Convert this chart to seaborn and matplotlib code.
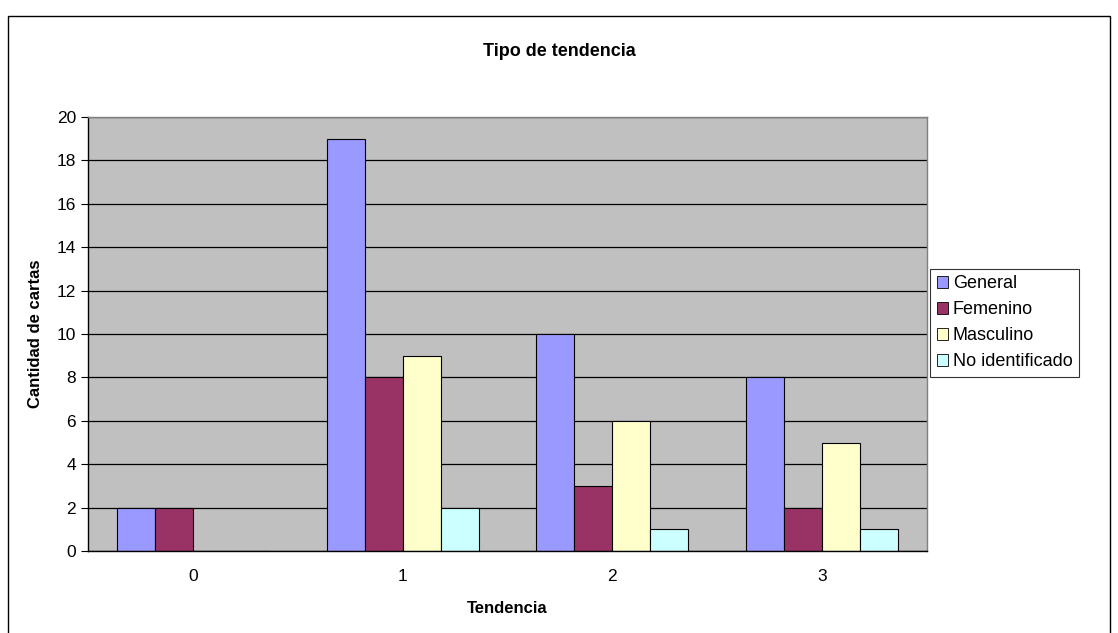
"""Tipo de tendencia - grouped bars, Excel style."""
import matplotlib.pyplot as plt
import matplotlib.patches as mpatches
import pandas as pd
import seaborn as sns

# Data
tendencias = ["0", "1", "2", "3"]
general = [2, 19, 10, 8]
femenino = [2, 8, 3, 2]
masculino = [0, 9, 6, 5]
no_identificado = [0, 2, 1, 1]
series_names = ["General", "Femenino", "Masculino", "No identificado"]
colors = ["#9999FF", "#993366", "#FFFFCC", "#CCFFFF"]

rows = []
for name, vals in zip(series_names, [general, femenino, masculino, no_identificado]):
    for t, v in zip(tendencias, vals):
        rows.append({"Tendencia": t, "Serie": name, "Cantidad": v})
df = pd.DataFrame(rows)

sns.set_style("white")
plt.rcParams["font.family"] = ["Liberation Sans", "DejaVu Sans"]
plt.rcParams["text.color"] = "black"
plt.rcParams["axes.labelcolor"] = "black"
plt.rcParams["xtick.color"] = "black"
plt.rcParams["ytick.color"] = "black"

fig = plt.figure(figsize=(11.18, 6.33), dpi=100)
ax = fig.add_axes([0.0787, 0.1295, 0.7505, 0.6857])
ax.set_facecolor("#C0C0C0")

sns.barplot(data=df, x="Tendencia", y="Cantidad", hue="Serie", order=tendencias,
            hue_order=series_names, palette=colors, width=0.724, gap=0,
            edgecolor="black", linewidth=0.8, saturation=1, ax=ax, legend=True)

ax.set_ylim(0, 20)
ax.set_xlim(-0.5, 3.5)
ax.set_yticks(range(0, 21, 2))
ax.yaxis.grid(True, color="black", linewidth=0.9)
ax.set_axisbelow(True)
ax.set_xticks([-0.5, 0.5, 1.5, 2.5, 3.5], minor=False)
ax.set_xticklabels([])
ax.set_xticks(range(4), minor=True)
ax.set_xticklabels(tendencias, minor=True, fontsize=12.5)
ax.tick_params(axis="x", which="major", direction="out", length=5)
ax.tick_params(axis="x", which="minor", length=0, pad=13)
ax.tick_params(axis="y", direction="out", length=5, labelsize=12.5, left=True)

for side, sp in ax.spines.items():
    sp.set_color("#808080")
    sp.set_linewidth(1)
ax.spines["bottom"].set_color("black")
ax.spines["left"].set_color("black")

ax.set_xlabel("Tendencia", fontsize=12, fontweight="bold", labelpad=12)
ax.set_ylabel("Cantidad de cartas", fontsize=12, fontweight="bold", labelpad=10)
fig.text(0.5, 0.918, "Tipo de tendencia", ha="center", va="center",
         fontsize=13, fontweight="bold")

leg = ax.legend(loc="upper left", bbox_to_anchor=(1.004, 0.65), frameon=True,
                fancybox=False, edgecolor="black", fontsize=13, title=None,
                handlelength=0.6, handleheight=0.6, handletextpad=0.3,
                borderpad=0.35, labelspacing=0.5, borderaxespad=0)
leg.get_frame().set_linewidth(0.8)
for h in leg.legend_handles:
    h.set_edgecolor("black")
    h.set_linewidth(0.6)

# Outer chart border
fig.patches.append(mpatches.Rectangle((8 / 1118, -0.01), 1102 / 1118, 1 - 16 / 633 + 0.01,
                                      transform=fig.transFigure, fill=False,
                                      edgecolor="black", linewidth=1))

fig.savefig("out.png", dpi=100)
